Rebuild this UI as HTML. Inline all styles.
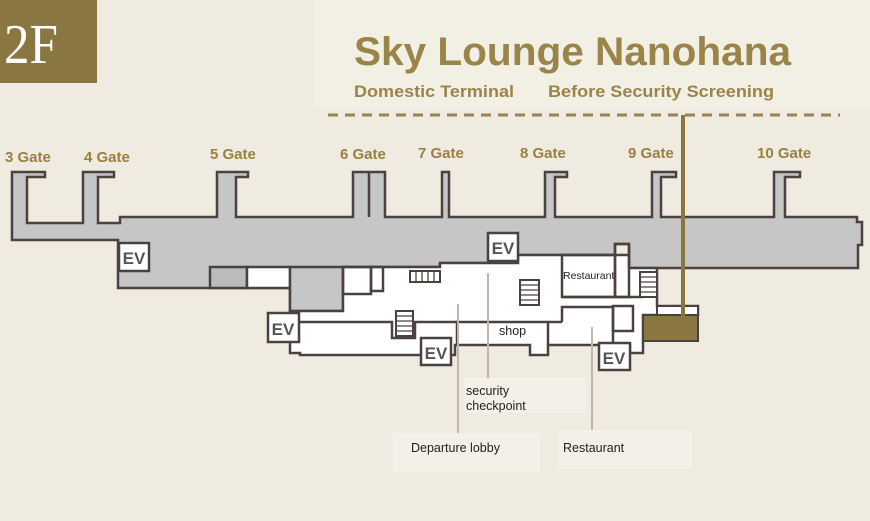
<!DOCTYPE html>
<html><head><meta charset="utf-8"><style>
html,body{margin:0;padding:0;background:#efebe0;}
svg{display:block;font-family:"Liberation Sans",sans-serif;}
</style></head><body>
<svg width="870" height="521" viewBox="0 0 870 521" xmlns="http://www.w3.org/2000/svg">
<rect width="870" height="521" fill="#efebe0"/>
<rect x="315" y="0" width="555" height="108" fill="#f2efe5"/>
<rect x="0" y="0" width="97" height="83" fill="#8a7640"/>
<text x="4" y="63" font-family="Liberation Serif,serif" font-size="56" fill="#fff" textLength="54" lengthAdjust="spacingAndGlyphs">2F</text>
<text x="354" y="65" font-size="40" font-weight="bold" fill="#9a8448" textLength="437" lengthAdjust="spacingAndGlyphs">Sky Lounge Nanohana</text>
<text x="354" y="97" font-size="17" font-weight="bold" fill="#9a8448" textLength="160" lengthAdjust="spacingAndGlyphs">Domestic Terminal</text>
<text x="548" y="97" font-size="17" font-weight="bold" fill="#9a8448" textLength="226" lengthAdjust="spacingAndGlyphs">Before Security Screening</text>
<line x1="328" y1="115" x2="840" y2="115" stroke="#9a8448" stroke-width="3" stroke-dasharray="10,7"/>

<g font-size="15" fill="#9a8040" font-weight="bold">
<text x="5" y="162">3 Gate</text><text x="84" y="162">4 Gate</text>
<text x="210" y="159">5 Gate</text><text x="340" y="159">6 Gate</text>
<text x="418" y="158">7 Gate</text><text x="520" y="158">8 Gate</text>
<text x="628" y="158">9 Gate</text><text x="757" y="158">10 Gate</text>
</g>

<path d="M12,172 H45 V177 H27 V223 H83 V172 H114 V177 H98 V223 H120 V217 H217 V172 H248 V177 H236 V217 H353 V172 H385 V217 H442 V172 H449 V217 H545 V172 H567 V177 H555 V217 H652 V172 H676 V177 H661 V217 H774 V172 H800 V177 H785 V217 H857 V222 H862 V245 H858 V268 H629 V244 H615 V255 H518 V263 H440 V267 H343 V311 H290 V288 H118 V240 H12 Z" fill="#c6c6c6" stroke="#4a4240" stroke-width="2.5" stroke-linejoin="miter"/>
<line x1="369" y1="172" x2="369" y2="217" stroke="#4a4240" stroke-width="2.5"/>
<rect x="210" y="267" width="37" height="21" fill="#bbb" stroke="#4a4240" stroke-width="2.5"/>
<rect x="247" y="267" width="43" height="21" fill="#fff" stroke="#4a4240" stroke-width="2.5"/>
<rect x="290" y="267" width="53" height="44" fill="#c6c6c6" stroke="#4a4240" stroke-width="2.5"/>

<path d="M343,267 H440 V263 H518 V255 H629 V268 H657 V306 H698 V315 H643 V353 H630 V345 H548 V355 H530 V345 H455 V355 H300 V353 H290 V311 H343 Z" fill="#fff" stroke="#4a4240" stroke-width="2.5"/>
<g fill="none" stroke="#4a4240" stroke-width="2.5">
<rect x="343" y="267" width="28" height="27"/>
<rect x="371" y="267" width="12" height="24"/>
<rect x="562" y="255" width="53" height="42"/>
<rect x="615" y="244" width="14" height="53"/>
<polyline points="300,322 392,322 392,338 415,338 415,322 457,322"/>
<polyline points="457,345 457,322 548,322 548,345"/>
<polyline points="562,322 562,307 613,307 613,345"/>
<rect x="613" y="306" width="20" height="25"/>
<line x1="562" y1="297" x2="643" y2="297"/>
<line x1="548" y1="322" x2="562" y2="322"/>
</g>
<rect x="657" y="306" width="41" height="9" fill="#fff" stroke="#4a4240" stroke-width="2"/>
<rect x="643" y="315" width="55" height="26" fill="#8a7640" stroke="#4a4240" stroke-width="2"/>

<g stroke="#4a4240" stroke-width="2" fill="#fff">
<rect x="520" y="280" width="19" height="25"/>
<rect x="396" y="311" width="17" height="25"/>
<rect x="640" y="272" width="17" height="25"/>
<rect x="410" y="271" width="30" height="11"/>
</g>
<g stroke="#4a4240" stroke-width="1.3">
<path d="M520,285H539M520,290H539M520,295H539M520,300H539"/>
<path d="M396,316H413M396,321H413M396,326H413M396,331H413"/>
<path d="M640,277H657M640,282H657M640,287H657M640,292H657"/>
<path d="M416,271V282M422,271V282M428,271V282M434,271V282"/>
</g>

<g stroke="#4a4240" stroke-width="2.5" fill="#fff">
<rect x="119" y="243" width="30" height="28"/>
<rect x="488" y="233" width="30" height="28"/>
<rect x="268" y="313" width="31" height="29"/>
<rect x="421" y="338" width="30" height="27"/>
<rect x="599" y="343" width="31" height="27"/>
</g>
<g font-size="17" font-weight="bold" fill="#555" text-anchor="middle">
<text x="134" y="264">EV</text><text x="503" y="254">EV</text>
<text x="283" y="335">EV</text><text x="436" y="359">EV</text><text x="614" y="364">EV</text>
</g>

<line x1="683" y1="115" x2="683" y2="316" stroke="#8a7640" stroke-width="4"/>

<g stroke="#bdb8ab" stroke-width="2">
<line x1="458" y1="304" x2="458" y2="433"/>
<line x1="488" y1="273" x2="488" y2="378"/>
<line x1="592" y1="327" x2="592" y2="430"/>
</g>
<g fill="#f3f0e7">
<rect x="464" y="378" width="122" height="35"/>
<rect x="393" y="433" width="147" height="40"/>
<rect x="558" y="430" width="134" height="39"/>
</g>
<g font-size="12.5" fill="#222">
<text x="466" y="395">security</text>
<text x="466" y="410">checkpoint</text>
<text x="411" y="452">Departure lobby</text>
<text x="563" y="452">Restaurant</text>
<text x="499" y="335">shop</text>
<text x="563" y="279" font-size="10.5">Restaurant</text>
</g>
</svg>
</body></html>
